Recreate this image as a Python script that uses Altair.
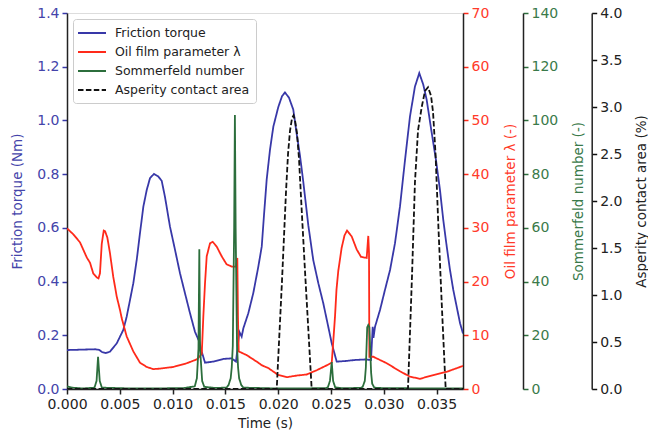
import altair as alt
import pandas as pd

# ---------------- data ----------------
torque_t = [0.0, 0.0009, 0.0018, 0.00265, 0.00303, 0.00331, 0.00369, 0.00407, 0.00471, 0.00533,
            0.00565, 0.00597, 0.00628, 0.0066, 0.00691, 0.00723, 0.00755, 0.00786, 0.00824, 0.00848,
            0.00865, 0.00897, 0.00928, 0.00975, 0.01023, 0.0107, 0.01117, 0.01165, 0.01212, 0.01253,
            0.01276, 0.01307, 0.01385, 0.0148, 0.0156, 0.016, 0.01613, 0.01632, 0.01654, 0.0167,
            0.01717, 0.01764, 0.01812, 0.01844, 0.01866, 0.01891, 0.01922, 0.01954, 0.02001, 0.02036,
            0.02064, 0.02102, 0.02143, 0.02175, 0.02206, 0.02238, 0.02285, 0.02332, 0.0238, 0.02427,
            0.02474, 0.02507, 0.02554, 0.02633, 0.02727, 0.02822, 0.02879, 0.02895, 0.02902, 0.02917,
            0.02964, 0.03011, 0.03059, 0.03106, 0.03153, 0.03201, 0.03248, 0.03295, 0.03336, 0.03374,
            0.03406, 0.03454, 0.03494, 0.03532, 0.03563, 0.03596, 0.03627, 0.03658, 0.0369, 0.03722,
            0.0375]
torque_v = [0.145, 0.146, 0.147, 0.148, 0.146, 0.138, 0.134, 0.139, 0.17, 0.22,
            0.269, 0.332, 0.394, 0.48, 0.58, 0.679, 0.741, 0.785, 0.801, 0.795,
            0.791, 0.775, 0.715, 0.605, 0.518, 0.431, 0.357, 0.282, 0.213, 0.176,
            0.139, 0.098, 0.102, 0.112, 0.114, 0.102, 0.145, 0.213, 0.195, 0.226,
            0.282, 0.357, 0.456, 0.53, 0.65, 0.78, 0.89, 0.977, 1.05, 1.09,
            1.104, 1.085, 1.04, 0.95, 0.87, 0.77, 0.61, 0.48, 0.394, 0.319,
            0.232, 0.17, 0.102, 0.104, 0.108, 0.11, 0.108, 0.232, 0.19, 0.232,
            0.294, 0.369, 0.443, 0.543, 0.679, 0.853, 1.015, 1.126, 1.176, 1.133,
            1.077, 0.953, 0.853, 0.741, 0.63, 0.53, 0.443, 0.369, 0.307, 0.245,
            0.207]

lambda_t = [0.0, 0.0006, 0.00123, 0.00187, 0.00218, 0.00249, 0.00281, 0.00298, 0.00312, 0.00329,
            0.00348, 0.0036, 0.00382, 0.00407, 0.00423, 0.00438, 0.00471, 0.00502, 0.00518, 0.00565,
            0.00628, 0.00691, 0.00755, 0.00817, 0.00881, 0.01007, 0.01134, 0.01228, 0.01276, 0.01291,
            0.01307, 0.01323, 0.01354, 0.0138, 0.01418, 0.01465, 0.01512, 0.0156, 0.016, 0.01613,
            0.01619, 0.01626, 0.01702, 0.01796, 0.01847, 0.01906, 0.02001, 0.02081, 0.02175, 0.0227,
            0.02365, 0.02459, 0.02507, 0.02522, 0.02538, 0.02552, 0.02569, 0.02601, 0.02628, 0.02652,
            0.02696, 0.02743, 0.02784, 0.02838, 0.02853, 0.0286, 0.02863, 0.02901, 0.03027, 0.03153,
            0.03248, 0.03343, 0.03469, 0.03596, 0.0375]
lambda_v = [29.9, 28.8, 27.3, 24.5, 23.5, 21.5, 20.8, 20.6, 21.5, 27.0,
            29.5, 29.4, 28.2, 25.3, 23.0, 20.9, 17.2, 14.7, 13.2, 9.8,
            7.0, 4.9, 4.1, 3.7, 3.8, 4.1, 4.8, 5.5, 6.5, 13.5,
            19.7, 24.7, 27.1, 27.4, 26.5, 24.7, 23.2, 22.8, 22.8, 24.4,
            13.5, 7.0, 6.3, 5.1, 4.4, 3.9, 2.6, 2.2, 2.5, 2.7,
            3.5, 4.4, 4.9, 9.0, 13.5, 18.5, 22.0, 26.3, 28.6, 29.5,
            28.4, 26.0, 24.6, 24.4, 28.5, 25.3, 6.0, 6.0, 4.8, 3.3,
            2.3, 1.9, 2.6, 3.2, 4.3]

somm_t = [0.0, 0.0005, 0.0015, 0.0026, 0.0028, 0.00294, 0.0031, 0.0033, 0.006, 0.011,
          0.0121, 0.0123, 0.01245, 0.01253, 0.0126, 0.0128, 0.013, 0.014, 0.0151, 0.0153,
          0.0155, 0.0156, 0.0157, 0.01583, 0.0159, 0.01597, 0.0161, 0.0162, 0.0163, 0.0165,
          0.0167, 0.02, 0.0245, 0.0247, 0.0249, 0.02507, 0.0252, 0.0254, 0.026, 0.0278,
          0.028, 0.0282, 0.0283, 0.02843, 0.02853, 0.02863, 0.0288, 0.0289, 0.0291, 0.0300,
          0.0375]
somm_v = [1.0, 0.5, 0.2, 0.5, 3.0, 12.0, 3.0, 0.5, 0.2, 0.3,
          1.0, 4.0, 15.0, 52.0, 15.0, 3.0, 0.8, 0.4, 0.5, 1.5,
          4.0, 8.0, 16.0, 60.0, 102.0, 60.0, 16.0, 8.0, 4.0, 1.5,
          0.5, 0.2, 0.3, 0.6, 3.0, 10.0, 3.0, 0.6, 0.3, 0.4,
          0.8, 3.0, 8.0, 23.0, 23.8, 23.0, 6.0, 2.0, 0.5, 0.3,
          0.2]

asp_t = [0.0, 0.01986, 0.02036, 0.02074, 0.02093, 0.02112, 0.02131, 0.02145, 0.02159, 0.02178,
         0.02197, 0.02225, 0.02254, 0.02287, 0.02317, 0.03229, 0.03267, 0.03295, 0.03324, 0.03359,
         0.0339, 0.03419, 0.03447, 0.03466, 0.0349, 0.03518, 0.03551, 0.03586, 0.0375]
asp_v = [0.0, 0.0, 1.15, 2.1, 2.5, 2.75, 2.88, 2.91, 2.86, 2.72,
         2.45, 1.85, 1.25, 0.6, 0.0, 0.0, 1.2, 2.2, 2.75, 3.0,
         3.17, 3.21, 3.12, 2.95, 2.5, 1.7, 0.85, 0.0, 0.0]

names = ["Friction torque", "Oil film parameter λ", "Sommerfeld number", "Asperity contact area"]
colors = ["#3838a8", "#ff2a1a", "#2c6e3c", "#111111"]
dashes = [[1, 0], [1, 0], [1, 0], [5.5, 2.4]]

x_ticks = [0.0, 0.005, 0.01, 0.015, 0.02, 0.025, 0.03, 0.035]
torque_ticks = [0.0, 0.2, 0.4, 0.6, 0.8, 1.0, 1.2, 1.4]
lambda_ticks = [0, 10, 20, 30, 40, 50, 60, 70]
somm_ticks = [0, 20, 40, 60, 80, 100, 120, 140]
asp_ticks = [0.0, 0.5, 1.0, 1.5, 2.0, 2.5, 3.0, 3.5, 4.0]

FONT = "DejaVu Sans"
W, H = 396, 376
DOMAIN = "#222222"
LFS = 14


def frame(ts, vs, name):
    return pd.DataFrame({"t": ts, "v": vs, "series": name})


x_enc = alt.X(
    "t:Q",
    scale=alt.Scale(domain=[0, 0.0375], nice=False, zero=False),
    axis=alt.Axis(title="Time (s)", values=x_ticks, format=".3f", labelFontSize=LFS,
                  titleFontSize=13.5, labelFont=FONT, titleFont=FONT, labelColor="#222",
                  titleColor="#222", tickColor="#222", domainColor=DOMAIN, domainWidth=1.5,
                  tickWidth=1.5, tickSize=5, labelPadding=3, titlePadding=5,
                  titleFontWeight="normal", grid=False, zindex=1, labelFlush=False),
)

legend = alt.Legend(title=None, orient="none", legendX=6, legendY=6,
                    symbolType="M-2,0H2", symbolSize=196, symbolStrokeWidth=1.8,
                    labelFontSize=12.5, labelFont=FONT, labelColor="#222",
                    labelOffset=15, symbolOffset=5, padding=6, rowPadding=4,
                    strokeColor="#cccccc", fillColor="white", cornerRadius=3, labelLimit=0)

color_enc = alt.Color("series:N", scale=alt.Scale(domain=names, range=colors), legend=legend)
dash_enc = alt.StrokeDash("series:N", scale=alt.Scale(domain=names, range=dashes), legend=legend)


def y_axis(orient, title, values, fmt, col, lab_col, offset, title_x):
    return alt.Axis(orient=orient, title=title, values=values, format=fmt, offset=offset,
                    labelFontSize=LFS, titleFontSize=13.5, labelFont=FONT, titleFont=FONT,
                    labelColor=lab_col, titleColor=lab_col, tickColor=col, domainColor=DOMAIN,
                    domainWidth=1.5, tickWidth=1.5, tickSize=5, labelPadding=3,
                    titleAngle=270, titleX=title_x, titleY=H / 2, titleAlign="center",
                    titleBaseline="middle", titleFontWeight="normal", grid=False)


def layer(ts, vs, name, domain, axis):
    return alt.Chart(frame(ts, vs, name)).mark_line(strokeWidth=1.8, clip=True).encode(
        x=x_enc,
        y=alt.Y("v:Q", scale=alt.Scale(domain=domain, nice=False, zero=False), axis=axis),
        color=color_enc,
        strokeDash=dash_enc,
    )


l_torque = layer(torque_t, torque_v, names[0], [0, 1.4],
                 y_axis("left", "Friction torque (Nm)", torque_ticks, ".1f", "#3838a8", "#4444aa", 0, -50))
l_lambda = layer(lambda_t, lambda_v, names[1], [0, 70],
                 y_axis("right", "Oil film parameter λ (-)", lambda_ticks, "d", "#ff2a1a", "#ff3a2a", 0, 47))
l_somm = layer(somm_t, somm_v, names[2], [0, 140],
               y_axis("right", "Sommerfeld number (-)", somm_ticks, "d", "#2c6e3c", "#3a7a4a", 60, 55))
l_asp = layer(asp_t, asp_v, names[3], [0, 4.0],
              y_axis("right", "Asperity contact area (%)", asp_ticks, ".1f", "#111111", "#222222", 128.7, 50))

chart = alt.layer(l_torque, l_lambda, l_somm, l_asp).resolve_scale(
    y="independent"
).properties(
    width=W, height=H,
    autosize=alt.AutoSizeParams(type="none"),
    padding={"left": 67, "top": 13, "right": 648 - 67 - W, "bottom": 440 - 13 - H},
).configure_view(
    stroke="#222222", strokeWidth=1.5
).configure(background="white")

chart.save("out.html", embed_options={"renderer": "svg", "actions": False})
